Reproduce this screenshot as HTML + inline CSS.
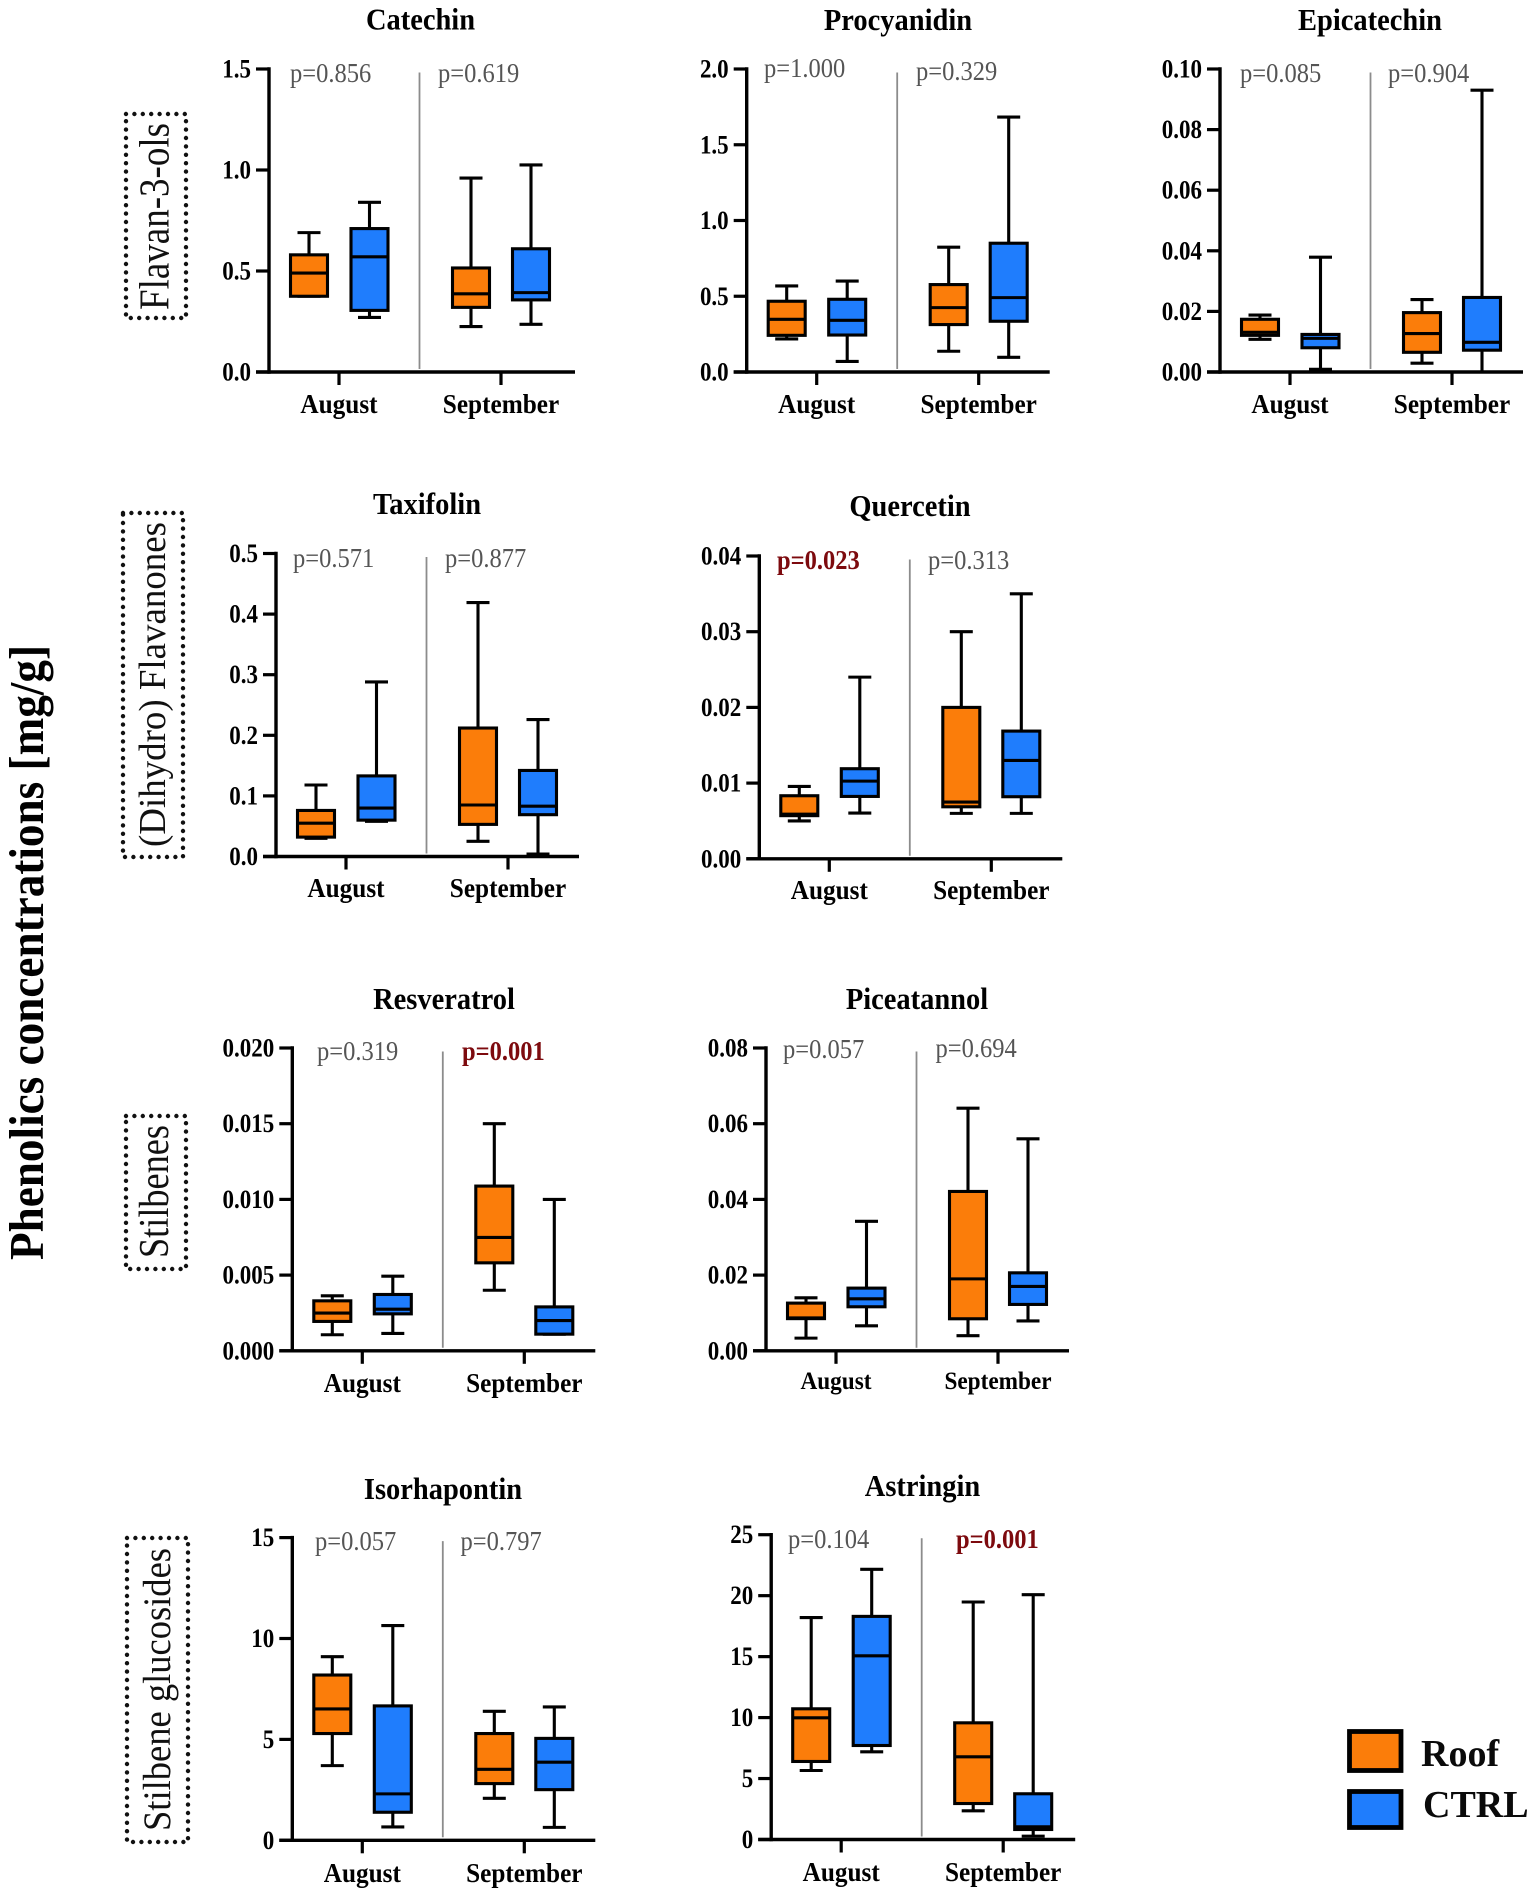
<!DOCTYPE html>
<html lang="en">
<head>
<meta charset="utf-8">
<title>Phenolics concentrations</title>
<style>
html,body{margin:0;padding:0;background:#fff;width:1535px;height:1893px;overflow:hidden}
svg{display:block;filter:blur(0.35px)}
text{font-family:"Liberation Serif","DejaVu Serif",serif}
</style>
</head>
<body>
<svg id="fig" xmlns="http://www.w3.org/2000/svg" width="1535" height="1893" viewBox="0 0 1535 1893">
  <rect x="0" y="0" width="1535" height="1893" fill="#fff"/>
  <text transform="translate(43,1260) rotate(-90)" font-size="49" font-weight="bold" fill="#000" textLength="615" lengthAdjust="spacingAndGlyphs">Phenolics concentrations [mg/g]</text>

  <rect x="126" y="114" width="60" height="204" fill="none" stroke="#111" stroke-width="4.4" stroke-linecap="round" stroke-dasharray="0 8.4"/>
  <text transform="translate(168.5,310) rotate(-90)" font-size="42" fill="#111" textLength="187" lengthAdjust="spacingAndGlyphs">Flavan-3-ols</text>

  <rect x="123" y="513" width="60" height="344" fill="none" stroke="#111" stroke-width="4.4" stroke-linecap="round" stroke-dasharray="0 8.4"/>
  <text transform="translate(165,847) rotate(-90)" font-size="38" fill="#111" textLength="325" lengthAdjust="spacingAndGlyphs">(Dihydro) Flavanones</text>

  <rect x="126" y="1116" width="60" height="153" fill="none" stroke="#111" stroke-width="4.4" stroke-linecap="round" stroke-dasharray="0 8.4"/>
  <text transform="translate(168,1258) rotate(-90)" font-size="42" fill="#111" textLength="133" lengthAdjust="spacingAndGlyphs">Stilbenes</text>

  <rect x="127" y="1538" width="61" height="304" fill="none" stroke="#111" stroke-width="4.4" stroke-linecap="round" stroke-dasharray="0 8.4"/>
  <text transform="translate(170,1831) rotate(-90)" font-size="39" fill="#111" textLength="283" lengthAdjust="spacingAndGlyphs">Stilbene glucosides</text>

  <g>
    <rect x="1349.5" y="1731.5" width="51.5" height="39" fill="#fb7d0a" stroke="#000" stroke-width="4.8"/>
    <text x="1421" y="1766" font-size="38" font-weight="bold" fill="#0a0a0a">Roof</text>
    <rect x="1349.5" y="1791.5" width="51.5" height="36" fill="#1f7dfd" stroke="#000" stroke-width="4.8"/>
    <text x="1423" y="1817" font-size="38" font-weight="bold" fill="#0a0a0a">CTRL</text>
  </g>
</svg>

<script>
// Categories and series shared by every panel
const months = ['August', 'September'];
const seriesNames = ['Roof', 'CTRL'];
const seriesColors = ['#fb7d0a', '#1f7dfd'];

// Each box: [lower whisker, Q1, median, Q3, upper whisker]; order: Aug Roof, Aug CTRL, Sep Roof, Sep CTRL
const catechinBoxes = [[0.375, 0.375, 0.49, 0.58, 0.69], [0.27, 0.305, 0.57, 0.71, 0.84], [0.225, 0.32, 0.387, 0.515, 0.96], [0.236, 0.357, 0.393, 0.61, 1.025]];
const catechinTicks = ['0.0', '0.5', '1.0', '1.5'];
const catechinP = ['p=0.856', 'p=0.619'];

const procyanidinBoxes = [[0.218, 0.242, 0.348, 0.467, 0.568], [0.07, 0.244, 0.341, 0.48, 0.6], [0.137, 0.313, 0.425, 0.577, 0.824], [0.097, 0.335, 0.491, 0.85, 1.683]];
const procyanidinTicks = ['0.0', '0.5', '1.0', '1.5', '2.0'];
const procyanidinP = ['p=1.000', 'p=0.329'];

const epicatechinBoxes = [[0.0108, 0.0121, 0.0131, 0.0174, 0.0188], [0.0009, 0.008, 0.0111, 0.0124, 0.0379], [0.0029, 0.0065, 0.0127, 0.0196, 0.0239], [0, 0.0072, 0.0098, 0.0246, 0.093]];
const epicatechinTicks = ['0.00', '0.02', '0.04', '0.06', '0.08', '0.10'];
const epicatechinP = ['p=0.085', 'p=0.904'];

const taxifolinBoxes = [[0.03, 0.032, 0.055, 0.076, 0.118], [0.058, 0.06, 0.08, 0.133, 0.288], [0.025, 0.053, 0.085, 0.212, 0.419], [0.004, 0.069, 0.083, 0.142, 0.226]];
const taxifolinTicks = ['0.0', '0.1', '0.2', '0.3', '0.4', '0.5'];
const taxifolinP = ['p=0.571', 'p=0.877'];

const quercetinBoxes = [[0.005, 0.0057, 0.0059, 0.00833, 0.00956], [0.00604, 0.00824, 0.01026, 0.0119, 0.024], [0.006, 0.00687, 0.0075, 0.02, 0.03], [0.006, 0.0082, 0.013, 0.01687, 0.035]];
const quercetinTicks = ['0.00', '0.01', '0.02', '0.03', '0.04'];
const quercetinP = ['p=0.023', 'p=0.313'];

const resveratrolBoxes = [[0.00106, 0.00194, 0.00249, 0.0033, 0.00363], [0.00115, 0.00244, 0.00275, 0.00372, 0.00493], [0.004, 0.00581, 0.00749, 0.01088, 0.015], [0.0011, 0.0011, 0.002, 0.0029, 0.01]];
const resveratrolTicks = ['0.000', '0.005', '0.010', '0.015', '0.020'];
const resveratrolP = ['p=0.319', 'p=0.001'];

const piceatannolBoxes = [[0.00335, 0.0085, 0.0087, 0.0126, 0.014], [0.0066, 0.01163, 0.01374, 0.01656, 0.0342], [0.004, 0.00846, 0.019, 0.0421, 0.0641], [0.0079, 0.01225, 0.017, 0.0206, 0.056]];
const piceatannolTicks = ['0.00', '0.02', '0.04', '0.06', '0.08'];
const piceatannolP = ['p=0.057', 'p=0.694'];

const isorhapontinBoxes = [[3.7, 5.29, 6.51, 8.19, 9.1], [0.66, 1.39, 2.3, 6.66, 10.64], [2.08, 2.81, 3.52, 5.29, 6.39], [0.64, 2.51, 3.87, 5.05, 6.61]];
const isorhapontinTicks = ['0', '5', '10', '15'];
const isorhapontinP = ['p=0.057', 'p=0.797'];

const astringinBoxes = [[5.66, 6.4, 9.98, 10.72, 18.2], [7.19, 7.71, 15.07, 18.3, 22.16], [2.35, 2.95, 6.78, 9.57, 19.48], [0.27, 0.82, 1.04, 3.75, 20.08]];
const astringinTicks = ['0', '5', '10', '15', '20', '25'];
const astringinP = ['p=0.104', 'p=0.001'];

// p-values that are flagged significant, by [panel title + month index]
const significant = ['Quercetin0', 'Resveratrol1', 'Astringin1'];

const panels = [
  { title: 'Catechin', boxes: catechinBoxes, ticks: catechinTicks, p: catechinP },
  { title: 'Procyanidin', boxes: procyanidinBoxes, ticks: procyanidinTicks, p: procyanidinP },
  { title: 'Epicatechin', boxes: epicatechinBoxes, ticks: epicatechinTicks, p: epicatechinP },
  { title: 'Taxifolin', boxes: taxifolinBoxes, ticks: taxifolinTicks, p: taxifolinP },
  { title: 'Quercetin', boxes: quercetinBoxes, ticks: quercetinTicks, p: quercetinP },
  { title: 'Resveratrol', boxes: resveratrolBoxes, ticks: resveratrolTicks, p: resveratrolP },
  { title: 'Piceatannol', boxes: piceatannolBoxes, ticks: piceatannolTicks, p: piceatannolP },
  { title: 'Isorhapontin', boxes: isorhapontinBoxes, ticks: isorhapontinTicks, p: isorhapontinP },
  { title: 'Astringin', boxes: astringinBoxes, ticks: astringinTicks, p: astringinP }
];

// Layout (page geometry) per panel, kept apart from data
function layoutFor(title) {
  switch (title) {
    case 'Catechin': return { ax: 269, y0: 372, top: 69, tx: 420.5, ty: 29.5, px: [290, 438], py: [82, 82], lb: 413, lf: 25, xEnd: 306 };
    case 'Procyanidin': return { ax: 746.7, y0: 372, top: 69, tx: 898, ty: 30, px: [764, 916], py: [77, 80], lb: 413, lf: 25, xEnd: 303 };
    case 'Epicatechin': return { ax: 1220, y0: 372, top: 69, tx: 1370, ty: 30, px: [1240, 1388], py: [82, 82], lb: 413, lf: 25, xEnd: 303 };
    case 'Taxifolin': return { ax: 276, y0: 856.5, top: 553.5, tx: 427, ty: 514, px: [293, 445], py: [567, 567], lb: 897, lf: 25, xEnd: 303 };
    case 'Quercetin': return { ax: 759.3, y0: 858.8, top: 556, tx: 910, ty: 516, px: [777, 928], py: [569, 569], lb: 899, lf: 25, xEnd: 303 };
    case 'Resveratrol': return { ax: 292.3, y0: 1350.8, top: 1048, tx: 444, ty: 1009, px: [317, 462], py: [1060, 1060], lb: 1392, lf: 25, xEnd: 303 };
    case 'Piceatannol': return { ax: 766, y0: 1350.8, top: 1048, tx: 917, ty: 1009, px: [783, 935.5], py: [1058, 1057], lb: 1389, lf: 23, xEnd: 303 };
    case 'Isorhapontin': return { ax: 292.3, y0: 1840.3, top: 1537.6, tx: 443, ty: 1499, px: [315, 460.5], py: [1550, 1550], lb: 1882, lf: 25, xEnd: 303 };
    default: return { ax: 771.2, y0: 1839.5, top: 1534.7, tx: 922.5, ty: 1496, px: [788, 956], py: [1548, 1548], lb: 1881, lf: 25, xEnd: 304 };
  }
}

const NS = 'http://www.w3.org/2000/svg';
const fig = document.getElementById('fig');

function el(parent, tag, attrs, text) {
  const e = document.createElementNS(NS, tag);
  for (const k in attrs) e.setAttribute(k, attrs[k]);
  if (text !== undefined) e.textContent = text;
  parent.appendChild(e);
  return e;
}
function slug(s) { return s.toLowerCase().replace(/[^a-z0-9]+/g, '-'); }

// Make glyphs taller while keeping the measured advance width (reference type is vertically stretched)
function stretch(t, fontFactor, widthFactor) {
  const w = t.getComputedTextLength();
  const size = parseFloat(t.getAttribute('font-size'));
  t.setAttribute('textLength', (w * widthFactor).toFixed(2));
  t.setAttribute('lengthAdjust', 'spacingAndGlyphs');
  t.setAttribute('font-size', (size * fontFactor).toFixed(2));
}

const BOX_OFFSETS = [40, 100.5, 202, 262];
const BOX_W = 37;
const CAP_W = 23;
const LW = 3.1;

panels.forEach(function (panel) {
  const L = layoutFor(panel.title);
  const key = slug(panel.title);
  const yMax = parseFloat(panel.ticks[panel.ticks.length - 1]);
  const yScale = function (v) { return L.y0 - (v / yMax) * (L.y0 - L.top); };

  const g = el(fig, 'g', {});
  
  

  const title = el(g, 'text', { x: L.tx, y: L.ty, 'text-anchor': 'middle', 'font-size': 27.5, 'font-weight': 'bold', fill: '#000' }, panel.title);
  
  
  stretch(title, 1.1, 1.035);

  const divider = el(g, 'line', { x1: L.ax + 150.5, x2: L.ax + 150.5, y1: L.top + 3.5, y2: L.y0 - 3, stroke: '#8c8c8c', 'stroke-width': 1.8 });
  
  

  const yAxis = el(g, 'line', { x1: L.ax, x2: L.ax, y1: L.top - 1.7, y2: L.y0 + 1.7, stroke: '#000', 'stroke-width': 3.4 });
  
  

  const xAxis = el(g, 'line', { x1: L.ax - 13, x2: L.ax + L.xEnd, y1: L.y0, y2: L.y0, stroke: '#000', 'stroke-width': 3.4 });
  
  

  panel.ticks.forEach(function (label) {
    const y = yScale(parseFloat(label));
    const tick = el(g, 'line', { x1: L.ax - 13, x2: L.ax, y1: y, y2: y, stroke: '#000', 'stroke-width': 3.2 });
    
    
    const t = el(g, 'text', { x: L.ax - 18, y: y + 8.5, 'text-anchor': 'end', 'font-size': 23, 'font-weight': 'bold', fill: '#000' }, label);
    
    
    stretch(t, 1.14, 1);
  });

  months.forEach(function (month, m) {
    const cx = L.ax + (m === 0 ? 70 : 232);
    const tick = el(g, 'line', { x1: cx, x2: cx, y1: L.y0, y2: L.y0 + 13, stroke: '#000', 'stroke-width': 3.2 });
    
    
    const t = el(g, 'text', { x: cx, y: L.lb, 'text-anchor': 'middle', 'font-size': L.lf, 'font-weight': 'bold', fill: '#000' }, month);
    
    
    stretch(t, 1.1, 1.01);

    const sig = significant.indexOf(panel.title + m) >= 0;
    const pt = el(g, 'text', { x: L.px[m], y: L.py[m], 'font-size': 24.5, 'font-weight': sig ? 'bold' : 'normal', fill: sig ? '#7d0a0e' : '#555' }, panel.p[m]);
    
    
    stretch(pt, 1.1, 1);
  });

  panel.boxes.forEach(function (b, i) {
    const cx = L.ax + BOX_OFFSETS[i];
    const s = i % 2;
    const m = i < 2 ? 0 : 1;
    const bg = el(g, 'g', {});
    
    
    const low = yScale(b[0]), q1 = yScale(b[1]), med = yScale(b[2]), q3 = yScale(b[3]), high = yScale(b[4]);
    const common = { stroke: '#000', 'stroke-width': LW };
    el(bg, 'line', Object.assign({ x1: cx, x2: cx, y1: high, y2: low }, common));
    el(bg, 'line', Object.assign({ x1: cx - CAP_W / 2, x2: cx + CAP_W / 2, y1: high, y2: high }, common));
    el(bg, 'line', Object.assign({ x1: cx - CAP_W / 2, x2: cx + CAP_W / 2, y1: low, y2: low }, common));
    el(bg, 'rect', Object.assign({ x: cx - BOX_W / 2, y: q3, width: BOX_W, height: Math.max(q1 - q3, 0), fill: seriesColors[s] }, common));
    el(bg, 'line', Object.assign({ x1: cx - BOX_W / 2, x2: cx + BOX_W / 2, y1: med, y2: med }, common));
  });
});
</script>
</body>
</html>
